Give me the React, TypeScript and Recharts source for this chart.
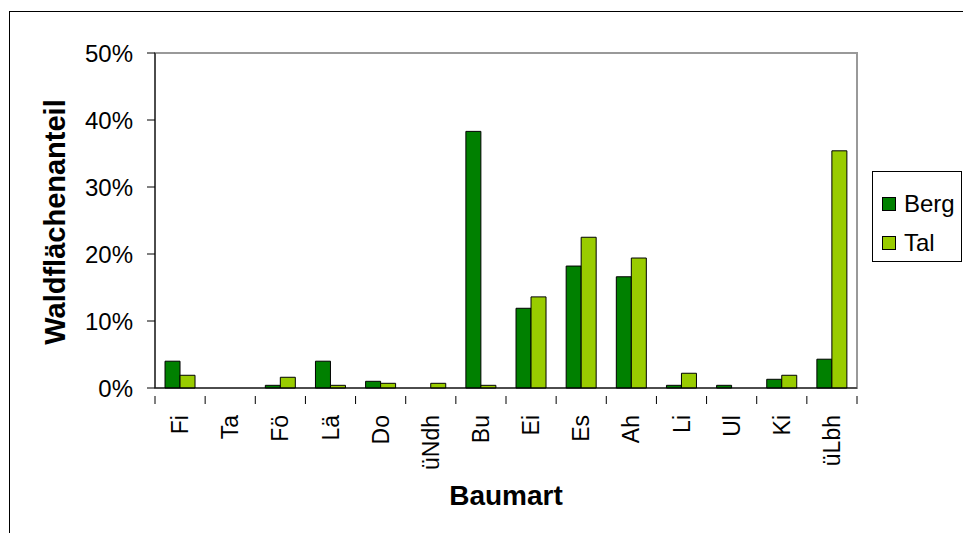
import React from 'react';
import {
  BarChart,
  Bar,
  XAxis,
  YAxis,
  CartesianGrid,
  Legend,
  Label,
  ReferenceLine,
  ReferenceArea,
} from 'recharts';

const baumarten = ['Fi', 'Ta', 'Fö', 'Lä', 'Do', 'üNdh', 'Bu', 'Ei', 'Es', 'Ah', 'Li', 'Ul', 'Ki', 'üLbh'];
const berg = [4.0, 0, 0.4, 4.0, 1.0, 0, 38.3, 11.9, 18.2, 16.6, 0.4, 0.4, 1.3, 4.3];
const tal = [1.9, 0, 1.6, 0.4, 0.7, 0.7, 0.4, 13.6, 22.5, 19.4, 2.2, 0, 1.9, 35.4];
const yTicks = [0, 10, 20, 30, 40, 50];

const data = baumarten.map((name, i) => ({ name, Berg: berg[i], Tal: tal[i] }));

const FONT = '"Liberation Sans", Arial, sans-serif';

// Excel style: tick marks sit between the categories, labels turned upright
const CategoryTick = (props: any) => {
  const { x, y, payload, index, visibleTicksCount } = props;
  const half = payload.offset ?? 25;
  const isLast = index === (visibleTicksCount ?? 14) - 1;
  return (
    <g>
      <line x1={x - half} y1={y} x2={x - half} y2={y + 8} stroke="#000" />
      {isLast && <line x1={x + half} y1={y} x2={x + half} y2={y + 8} stroke="#000" />}
      <text
        x={x}
        y={y + 19}
        dy="0.35em"
        textAnchor="end"
        transform={`rotate(-90, ${x}, ${y + 19})`}
        fontSize={23}
        fontFamily={FONT}
        fill="#000"
      >
        {payload.value}
      </text>
    </g>
  );
};

const LegendBox = (props: any) => {
  const { payload } = props;
  return (
    <div
      style={{
        width: 90,
        height: 91,
        border: '1px solid #000',
        background: '#fff',
        fontFamily: FONT,
        fontSize: 24,
        boxSizing: 'border-box',
        paddingTop: 12,
      }}
    >
      {(payload || []).map((entry: any) => (
        <div key={entry.value} style={{ display: 'flex', alignItems: 'center', height: 39 }}>
          <span
            style={{
              display: 'inline-block',
              width: 12,
              height: 12,
              marginLeft: 9,
              marginRight: 8,
              background: entry.color,
              border: '1px solid #000',
            }}
          />
          <span>{entry.value}</span>
        </div>
      ))}
    </div>
  );
};

export default function App() {
  return (
    <div
      style={{
        position: 'fixed',
        left: 0,
        top: 0,
        width: 963,
        height: 533,
        overflow: 'hidden',
        background: '#fff',
      }}
    >
      <div
        style={{
          position: 'absolute',
          left: 9,
          top: 11,
          width: 1000,
          height: 600,
          border: '1px solid #000',
        }}
      />
      <div style={{ position: 'absolute', left: 0, top: 0 }}>
        <BarChart
          width={963}
          height={533}
          data={data}
          margin={{ top: 53, right: 106, bottom: 0, left: 0 }}
          barCategoryGap="20%"
          barGap={0}
        >
          <ReferenceArea
            yAxisId="left"
            y1={0}
            y2={50}
            fill="none"
            fillOpacity={0}
            stroke="#999"
            strokeWidth={2}
          />
          <CartesianGrid vertical={false} stroke="#000" strokeWidth={1} />
          <ReferenceLine yAxisId="left" y={50} stroke="#999" strokeWidth={2} />
          <XAxis
            dataKey="name"
            height={145}
            axisLine={{ stroke: '#000' }}
            tickLine={false}
            interval={0}
            tick={<CategoryTick />}
          >
            <Label
              content={() => (
                <text
                  x={506}
                  y={505}
                  textAnchor="middle"
                  fontSize={28}
                  fontWeight="bold"
                  fontFamily={FONT}
                  fill="#000"
                >
                  Baumart
                </text>
              )}
            />
          </XAxis>
          <YAxis
            yAxisId="left"
            width={155}
            domain={[0, 50]}
            ticks={yTicks}
            tickFormatter={(v: number) => `${v}%`}
            tickSize={8}
            tickMargin={14}
            axisLine={{ stroke: '#000' }}
            tickLine={{ stroke: '#000' }}
            tick={{ fontSize: 24, fontFamily: FONT, fill: '#000' }}
          >
            <Label
              content={() => (
                <text
                  x={55}
                  y={222}
                  dy="0.35em"
                  textAnchor="middle"
                  transform="rotate(-90, 55, 222)"
                  fontSize={29}
                  fontWeight="bold"
                  fontFamily={FONT}
                  fill="#000"
                >
                  Waldflächenanteil
                </text>
              )}
            />
          </YAxis>
          <Legend
            layout="horizontal"
            align="center"
            verticalAlign="middle"
            content={<LegendBox />}
            wrapperStyle={{ position: 'absolute', left: 872, top: 171, width: 90 }}
          />
          <Bar
            yAxisId="left"
            dataKey="Berg"
            fill="#008000"
            stroke="#000"
            strokeWidth={1}
            isAnimationActive={false}
          />
          <Bar
            yAxisId="left"
            dataKey="Tal"
            fill="#99CC00"
            stroke="#000"
            strokeWidth={1}
            isAnimationActive={false}
          />
        </BarChart>
      </div>
    </div>
  );
}
